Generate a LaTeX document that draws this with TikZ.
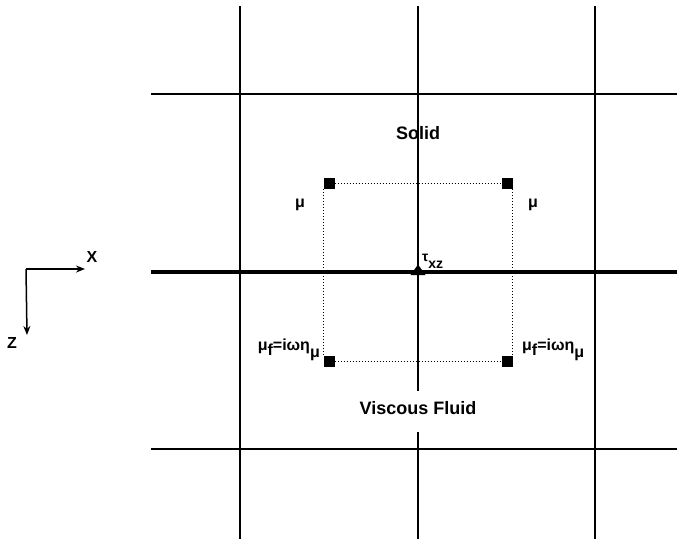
\documentclass[tikz,border=0pt]{standalone}
\usepackage{fontspec}
\setmainfont{Liberation Sans}[BoldFont={Liberation Sans Bold}]
\usetikzlibrary{arrows.meta}
\begin{document}
\begin{tikzpicture}[x=1pt,y=-1pt,
  gridline/.style={line width=2pt,black},
  interface/.style={line width=4.5pt,black},
  sq/.style={fill=black,draw=none,minimum size=11pt,inner sep=0pt},
  conn/.style={dotted,line width=1pt},
  lbl/.style={font=\bfseries\fontsize{16}{16}\selectfont,inner sep=0pt},
  small/.style={font=\bfseries\fontsize{14}{14}\selectfont,inner sep=0pt},
  big/.style={font=\bfseries\fontsize{18}{18}\selectfont,inner sep=0pt},
  axis/.style={line width=1.5pt,-{Stealth[length=9pt,width=7pt]}}]
\useasboundingbox (0,0) rectangle (677,539);
% grid
\coordinate (v1t) at (240,6);  \coordinate (v1b) at (240,539);
\coordinate (v3t) at (595,6);  \coordinate (v3b) at (595,539);
\coordinate (v2t) at (418,6);  \coordinate (v2m) at (418,391);
\coordinate (v2n) at (418,432); \coordinate (v2b) at (418,539);
\coordinate (h1l) at (151,94);  \coordinate (h1r) at (677,94);
\coordinate (h2l) at (151,449); \coordinate (h2r) at (677,449);
\coordinate (il) at (151,272);  \coordinate (ir) at (677,272);
\draw[gridline] (v1t) -- (v1b);
\draw[gridline] (v3t) -- (v3b);
\draw[gridline] (v2t) -- (v2m);
\draw[gridline] (v2n) -- (v2b);
\draw[gridline] (h1l) -- (h1r);
\draw[gridline] (h2l) -- (h2r);
\draw[interface] (il) -- (ir);
% squares
\node[sq] (tl) at (329,183.5) {};
\node[sq] (tr) at (507,183.5) {};
\node[sq] (bl) at (329,361) {};
\node[sq] (br) at (507,361) {};
\draw[conn] (tl.east) -- (tr.west);
\draw[conn] (bl.east) -- (br.west);
\draw[conn] (tl.south west) -- (bl.north west);
\draw[conn] (tr.south east) -- (br.north east);
% stress point
\coordinate (tau) at (418,264.5);
\fill (tau) -- (410.5,275) -- (425.5,275) -- cycle;
\node[small,anchor=base west] (taulbl) at (422,261) {τ\raisebox{-7pt}{xz}};
% labels
\node[big] (solid) at (418,133) {Solid};
\node[big] (fluid) at (418,408) {Viscous Fluid};
\node[lbl] (mul) at (300,205) {μ};
\node[lbl] (mur) at (533,205) {μ};
\node[lbl,anchor=base east] (mufl) at (320,350) {μ\raisebox{-5pt}{f}=iωη\raisebox{-7pt}{μ}};
\node[lbl,anchor=base west] (mufr) at (522,350) {μ\raisebox{-5pt}{f}=iωη\raisebox{-7pt}{μ}};
% axes
\coordinate (o) at (26,269);
\coordinate (xe) at (85,269);
\coordinate (ze) at (27,335);
\draw[axis] (o) -- (xe);
\draw[axis] (o) -- (ze);
\node[lbl] (xl) at (92,257) {X};
\node[lbl] (zl) at (12,343) {Z};
\end{tikzpicture}
\end{document}
